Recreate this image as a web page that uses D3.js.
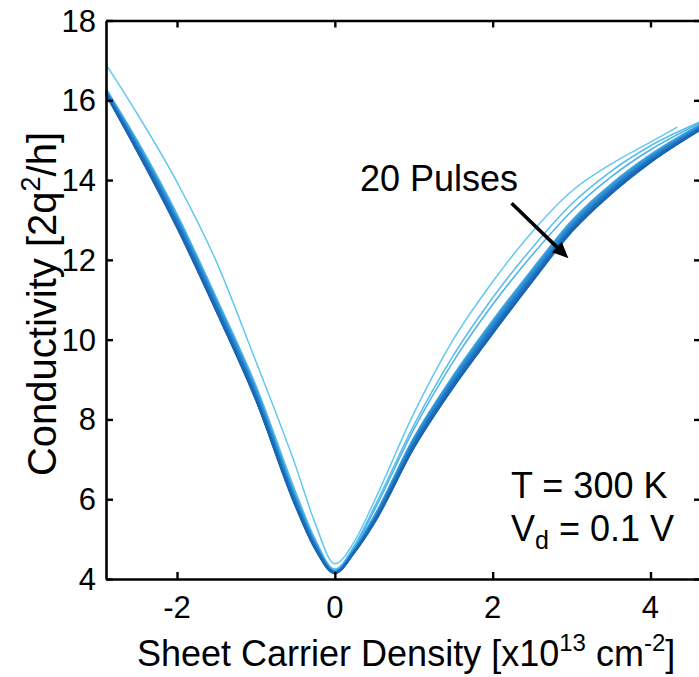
<!DOCTYPE html>
<html>
<head>
<meta charset="utf-8">
<script src="https://cdn.jsdelivr.net/npm/d3@7"></script>
<style>
  html, body { margin: 0; padding: 0; background: #fff; }
  svg { display: block; }
  text { font-family: "Liberation Sans", Arial, Helvetica, sans-serif; fill: #000; }
</style>
</head>
<body>
<svg id="chart" width="699" height="677"></svg>
<script>
// ---------------- data ----------------
const xTicks = [-2, 0, 2, 4];
const yTicks = [4, 6, 8, 10, 12, 14, 16, 18];

// carrier density samples (x10^13 cm^-2)
const densityX = [-2.9, -2.5, -2, -1.5, -1, -0.5, -0.25, 0, 0.25, 0.5, 1, 1.5, 2, 2.5, 3, 3.5, 4, 4.62];
const densityXFirst = [-2.9, -2.5, -2, -1.5, -1, -0.5, -0.25, 0, 0.25, 0.5, 1, 1.5, 2, 2.5, 3, 3.5, 4, 4.34];

// conductivity per pulse curve (2q^2/h)
const pulse01 = [16.9, 15.65, 13.95, 11.95, 9.45, 6.85, 5.4, 4.38, 4.95, 5.95, 8.15, 10.0, 11.45, 12.7, 13.72, 14.4, 14.95, 15.33];
const pulse02 = [16.3, 14.98, 13.15, 11.05, 8.85, 6.2, 5.0, 4.25, 4.85, 5.8, 7.85, 9.6, 11.05, 12.3, 13.4, 14.22, 14.86, 15.45];
const pulse03 = [16.28, 14.95, 13.1, 11.0, 8.8, 6.12, 4.95, 4.22, 4.8, 5.72, 7.75, 9.45, 10.88, 12.12, 13.22, 14.08, 14.76, 15.42];
const pulse04 = [16.26, 14.93, 13.08, 10.98, 8.76, 6.08, 4.92, 4.2, 4.77, 5.58, 7.54, 9.1, 10.48, 11.76, 12.98, 13.9, 14.64, 15.38];
const pulse05 = [16.25, 14.91, 13.06, 10.96, 8.74, 6.06, 4.91, 4.19, 4.76, 5.57, 7.52, 9.07, 10.45, 11.73, 12.95, 13.87, 14.62, 15.36];
const pulse06 = [16.24, 14.9, 13.05, 10.95, 8.72, 6.05, 4.9, 4.2, 4.75, 5.55, 7.5, 9.05, 10.42, 11.7, 12.93, 13.85, 14.6, 15.35];
const pulse07 = [16.23, 14.88, 13.03, 10.93, 8.7, 6.03, 4.89, 4.19, 4.74, 5.54, 7.49, 9.04, 10.41, 11.69, 12.92, 13.84, 14.59, 15.34];
const pulse08 = [16.22, 14.86, 13.0, 10.9, 8.67, 6.0, 4.87, 4.18, 4.73, 5.52, 7.46, 9.0, 10.37, 11.65, 12.88, 13.81, 14.57, 15.33];
const pulse09 = [16.21, 14.85, 12.98, 10.88, 8.65, 5.98, 4.86, 4.18, 4.72, 5.51, 7.45, 8.98, 10.35, 11.63, 12.86, 13.8, 14.56, 15.32];
const pulse10 = [16.2, 14.83, 12.97, 10.86, 8.63, 5.97, 4.85, 4.17, 4.72, 5.5, 7.43, 8.97, 10.33, 11.61, 12.85, 13.78, 14.55, 15.31];
const pulse11 = [16.2, 14.82, 12.95, 10.84, 8.62, 5.95, 4.84, 4.17, 4.71, 5.49, 7.42, 8.95, 10.31, 11.59, 12.83, 13.76, 14.54, 15.31];
const pulse12 = [16.19, 14.8, 12.93, 10.82, 8.6, 5.94, 4.83, 4.17, 4.71, 5.48, 7.4, 8.93, 10.29, 11.57, 12.81, 13.75, 14.52, 15.3];
const pulse13 = [16.18, 14.79, 12.92, 10.8, 8.58, 5.92, 4.82, 4.16, 4.7, 5.47, 7.38, 8.91, 10.27, 11.55, 12.8, 13.74, 14.51, 15.29];
const pulse14 = [16.18, 14.78, 12.9, 10.79, 8.57, 5.91, 4.81, 4.16, 4.7, 5.46, 7.37, 8.9, 10.25, 11.54, 12.78, 13.72, 14.5, 15.28];
const pulse15 = [16.17, 14.76, 12.88, 10.77, 8.55, 5.9, 4.8, 4.16, 4.69, 5.45, 7.35, 8.88, 10.23, 11.52, 12.77, 13.71, 14.49, 15.28];
const pulse16 = [16.17, 14.75, 12.86, 10.75, 8.53, 5.88, 4.79, 4.16, 4.69, 5.44, 7.33, 8.86, 10.21, 11.5, 12.75, 13.7, 14.48, 15.27];
const pulse17 = [16.16, 14.74, 12.85, 10.74, 8.52, 5.87, 4.78, 4.15, 4.68, 5.43, 7.32, 8.84, 10.19, 11.49, 12.74, 13.69, 14.47, 15.26];
const pulse18 = [16.15, 14.72, 12.83, 10.72, 8.5, 5.85, 4.77, 4.15, 4.68, 5.42, 7.3, 8.82, 10.17, 11.47, 12.72, 13.67, 14.46, 15.25];
const pulse19 = [16.15, 14.71, 12.82, 10.71, 8.49, 5.84, 4.76, 4.15, 4.67, 5.41, 7.29, 8.81, 10.16, 11.46, 12.71, 13.66, 14.45, 15.25];
const pulse20 = [16.14, 14.7, 12.8, 10.7, 8.48, 5.83, 4.75, 4.14, 4.67, 5.4, 7.28, 8.8, 10.15, 11.45, 12.7, 13.65, 14.44, 15.24];

const pulseCurves = [pulse01, pulse02, pulse03, pulse04, pulse05, pulse06, pulse07, pulse08, pulse09, pulse10,
                     pulse11, pulse12, pulse13, pulse14, pulse15, pulse16, pulse17, pulse18, pulse19, pulse20];
const pulseColors = ["#63c8f1", "#55bcec", "#4bb2e8", "#42a9e4", "#3ca2e0", "#379bdc", "#3395d8", "#2f8fd4",
                     "#2c8ad1", "#2985cd", "#2781ca", "#257dc7", "#2379c4", "#2175c1", "#2072be", "#1e6fbc",
                     "#1d6cb9", "#1c6ab7", "#1b68b5", "#1a66b3"];

// annotation arrow (data coordinates)
const arrowStart = [2.24, 13.42];
const arrowEnd = [2.96, 12.04];

// ---------------- chart ----------------
const svg = d3.select("#chart");
const x = d3.scaleLinear().domain([-2.9, 4.64]).range([106, 701]);
const y = d3.scaleLinear().domain([4, 18]).range([579, 20.5]);

const line = d3.line()
  .x(d => x(d[0])).y(d => y(d[1]))
  .curve(d3.curveMonotoneX);

const curvesG = svg.append("g");
pulseCurves.forEach((vals, i) => {
  const xs = i === 0 ? densityXFirst : densityX;
  const pts = vals.map((v, j) => [xs[j], v]);
  curvesG.append("path")
    .attr("d", line(pts))
    .attr("fill", "none")
    .attr("stroke", pulseColors[i])
    .attr("stroke-width", i < 3 ? 1.5 : 1.7)
    .attr("stroke-linejoin", "round");
});

// axes
const axisStyle = g => {
  g.select(".domain").attr("stroke", "#000").attr("stroke-width", 2.6);
  g.selectAll(".tick line").attr("stroke", "#000").attr("stroke-width", 2.4);
  g.selectAll(".tick text").remove();
};
svg.append("g").attr("transform", `translate(0,${y(4)})`)
  .call(d3.axisBottom(x).tickValues(xTicks).tickSizeInner(-7).tickSizeOuter(0)).call(axisStyle);
svg.append("g").attr("transform", `translate(0,${y(18)})`)
  .call(d3.axisTop(x).tickValues(xTicks).tickSizeInner(-7).tickSizeOuter(0)).call(axisStyle);
svg.append("g").attr("transform", `translate(${x(-2.9)},0)`)
  .call(d3.axisLeft(y).tickValues(yTicks).tickSizeInner(-7).tickSizeOuter(0)).call(axisStyle);
svg.append("g").attr("transform", `translate(${x(4.64)},0)`)
  .call(d3.axisRight(y).tickValues(yTicks).tickSizeInner(-7).tickSizeOuter(0)).call(axisStyle);

// tick labels
svg.append("g").selectAll("text").data(xTicks).join("text")
  .attr("x", d => x(d)).attr("y", 618)
  .attr("text-anchor", "middle").attr("font-size", 31)
  .text(d => d);
svg.append("g").selectAll("text").data(yTicks).join("text")
  .attr("x", 96).attr("y", d => y(d) + 11)
  .attr("text-anchor", "end").attr("font-size", 31)
  .text(d => d);

// axis titles
const xl = svg.append("text").attr("x", 137).attr("y", 666).attr("font-size", 36);
xl.append("tspan").text("Sheet Carrier Density [x10");
xl.append("tspan").attr("font-size", 24).attr("dy", -15).text("13");
xl.append("tspan").attr("dy", 15).text(" cm");
xl.append("tspan").attr("font-size", 24).attr("dy", -15).text("-2");
xl.append("tspan").attr("dy", 15).text("]");

const yl = svg.append("text").attr("transform", "translate(56,304) rotate(-90)")
  .attr("text-anchor", "middle").attr("font-size", 40);
yl.append("tspan").text("Conductivity [2q");
yl.append("tspan").attr("font-size", 27).attr("dy", -16).text("2");
yl.append("tspan").attr("dy", 16).text("/h]");

// annotations
svg.append("text").attr("x", 360).attr("y", 191).attr("font-size", 36).text("20 Pulses");

const x0 = x(arrowStart[0]), y0 = y(arrowStart[1]);
const x1 = x(arrowEnd[0]), y1 = y(arrowEnd[1]);
const ang = Math.atan2(y1 - y0, x1 - x0);
const headL = 16, headW = 7;
const bx = x1 - headL * Math.cos(ang), by = y1 - headL * Math.sin(ang);
svg.append("line").attr("x1", x0).attr("y1", y0).attr("x2", bx).attr("y2", by)
  .attr("stroke", "#000").attr("stroke-width", 3.5);
svg.append("path")
  .attr("d", `M${x1},${y1}L${bx + headW * Math.sin(ang)},${by - headW * Math.cos(ang)}L${bx - headW * Math.sin(ang)},${by + headW * Math.cos(ang)}Z`)
  .attr("fill", "#000");

svg.append("text").attr("x", 511).attr("y", 498).attr("font-size", 36).text("T = 300 K");
const vd = svg.append("text").attr("x", 511).attr("y", 541).attr("font-size", 36);
vd.append("tspan").text("V");
vd.append("tspan").attr("font-size", 25).attr("dy", 8).text("d");
vd.append("tspan").attr("dy", -8).text(" = 0.1 V");
</script>
</body>
</html>
